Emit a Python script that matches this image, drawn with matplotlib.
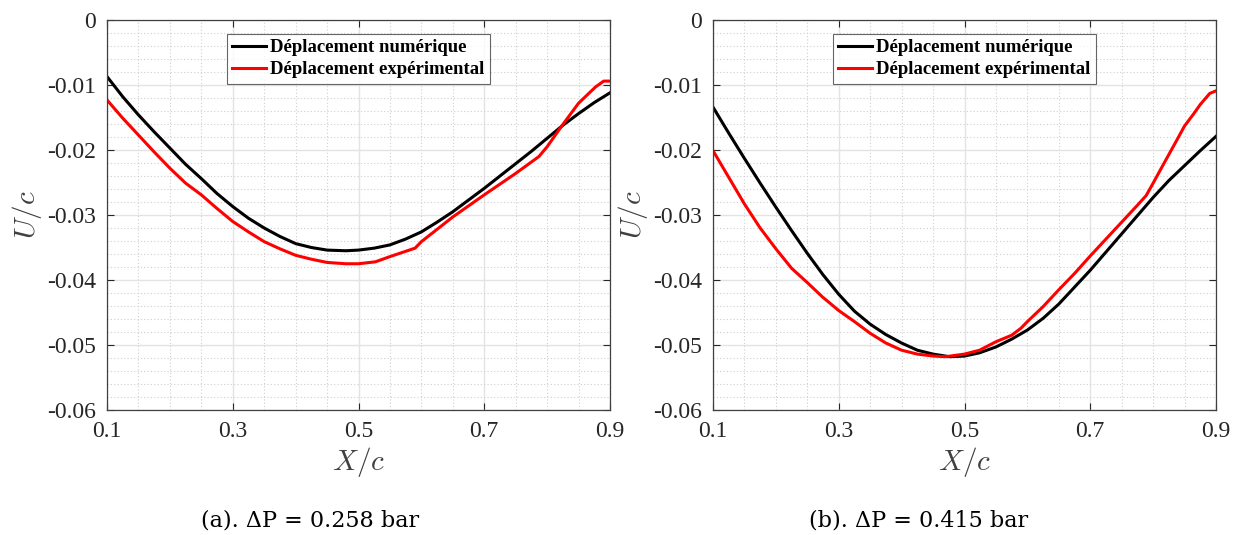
import numpy as np
import matplotlib
matplotlib.use('Agg')
import matplotlib.pyplot as plt
from matplotlib.ticker import MultipleLocator

plt.rcParams['font.family'] = ['Liberation Serif', 'DejaVu Serif']
plt.rcParams['mathtext.fontset'] = 'cm'

# (a) dP = 0.258 bar
xa_num = [0.1, 0.125, 0.15, 0.175, 0.2, 0.225, 0.25, 0.275, 0.3, 0.325, 0.35, 0.375, 0.4, 0.425,
          0.45, 0.48, 0.5, 0.525, 0.55, 0.575, 0.6, 0.625, 0.65, 0.675, 0.7, 0.725, 0.75, 0.775,
          0.8, 0.825, 0.85, 0.875, 0.9]
ya_num = [-0.0087, -0.0118, -0.0146, -0.0172, -0.0197, -0.0222, -0.0244, -0.0267, -0.0287, -0.0305,
          -0.0320, -0.0333, -0.0344, -0.0350, -0.0354, -0.0355, -0.0354, -0.0351, -0.0346, -0.0337,
          -0.0326, -0.0311, -0.0295, -0.0277, -0.0259, -0.0240, -0.0221, -0.0202, -0.0182, -0.0162,
          -0.0144, -0.0127, -0.0112]
xa_exp = [0.1, 0.125, 0.15, 0.175, 0.2, 0.225, 0.25, 0.275, 0.3, 0.325, 0.35, 0.375, 0.4, 0.425,
          0.45, 0.48, 0.5, 0.527, 0.55, 0.59, 0.6, 0.65, 0.7, 0.75, 0.787, 0.8, 0.824, 0.85, 0.877,
          0.89, 0.9]
ya_exp = [-0.0123, -0.0151, -0.0177, -0.0203, -0.0228, -0.0251, -0.0269, -0.0290, -0.0310, -0.0326,
          -0.0341, -0.0352, -0.0362, -0.0368, -0.0373, -0.0375, -0.0375, -0.0372, -0.0364, -0.0351,
          -0.0341, -0.0303, -0.0269, -0.0236, -0.0210, -0.0195, -0.0162, -0.0128, -0.0103, -0.0094,
          -0.0094]

# (b) dP = 0.415 bar
xb_num = [0.1, 0.125, 0.15, 0.175, 0.2, 0.225, 0.25, 0.275, 0.3, 0.325, 0.35, 0.375, 0.4, 0.425,
          0.45, 0.476, 0.5, 0.524, 0.55, 0.575, 0.6, 0.625, 0.65, 0.675, 0.7, 0.725, 0.75, 0.775,
          0.8, 0.825, 0.85, 0.875, 0.9]
yb_num = [-0.0134, -0.0174, -0.0213, -0.0251, -0.0288, -0.0324, -0.0359, -0.0392, -0.0422, -0.0448,
          -0.0468, -0.0484, -0.0497, -0.0508, -0.0514, -0.0518, -0.0517, -0.0512, -0.0503, -0.0491,
          -0.0477, -0.0459, -0.0437, -0.0411, -0.0385, -0.0357, -0.0329, -0.0301, -0.0273, -0.0247,
          -0.0224, -0.0201, -0.0179]
xb_exp = [0.1, 0.125, 0.15, 0.175, 0.2, 0.225, 0.25, 0.274, 0.3, 0.325, 0.35, 0.375, 0.4, 0.425,
          0.45, 0.47, 0.5, 0.524, 0.55, 0.575, 0.59, 0.6, 0.625, 0.65, 0.675, 0.7, 0.725, 0.75,
          0.775, 0.789, 0.8, 0.813, 0.825, 0.837, 0.85, 0.864, 0.875, 0.89, 0.9]
yb_exp = [-0.0201, -0.0242, -0.0283, -0.0320, -0.0352, -0.0382, -0.0404, -0.0426, -0.0447, -0.0464,
          -0.0482, -0.0497, -0.0508, -0.0514, -0.0517, -0.0518, -0.0514, -0.0508, -0.0495, -0.0485,
          -0.0474, -0.0464, -0.0441, -0.0415, -0.0390, -0.0363, -0.0337, -0.0311, -0.0285, -0.0270,
          -0.0251, -0.0228, -0.0207, -0.0186, -0.0163, -0.0145, -0.0130, -0.0113, -0.0109]

x_ticks = [0.1, 0.3, 0.5, 0.7, 0.9]
y_ticks = [0, -0.01, -0.02, -0.03, -0.04, -0.05, -0.06]
y_labels = ['0', '-0.01', '-0.02', '-0.03', '-0.04', '-0.05', '-0.06']
legend_labels = ['Déplacement numérique', 'Déplacement expérimental']
captions = ['(a). ΔP = 0.258 bar', '(b). ΔP = 0.415 bar']

fig = plt.figure(figsize=(12.41, 5.35), dpi=100)
W, H = 1241, 535
panels = [
    (107, 310, xa_num, ya_num, xa_exp, ya_exp),
    (713, 919, xb_num, yb_num, xb_exp, yb_exp),
]

for i, (left, cap_x, xn, yn, xe, ye) in enumerate(panels):
    ax = fig.add_axes([left / W, (H - 410) / H, 503 / W, 390 / H])
    ax.plot(xn, yn, color='black', lw=2.2, label=legend_labels[0])
    ax.plot(xe, ye, color='#ff0000', lw=2.2, label=legend_labels[1])
    ax.set_xlim(0.1, 0.9)
    ax.set_ylim(-0.06, 0)
    ax.set_xticks(x_ticks)
    ax.set_xticklabels([str(t) for t in x_ticks])
    ax.set_yticks(y_ticks)
    ax.set_yticklabels(y_labels)
    ax.xaxis.set_minor_locator(MultipleLocator(0.05))
    ax.yaxis.set_minor_locator(MultipleLocator(0.002))
    ax.grid(True, which='major', color='#e3e3e3', lw=1.0, ls='-')
    ax.grid(True, which='minor', color='#cfcfcf', lw=0.8, ls=(0, (1, 2)))
    ax.set_axisbelow(True)
    ax.tick_params(which='both', direction='in', top=True, right=True, labelsize=17,
                   colors='#262626', pad=8)
    ax.tick_params(which='major', length=5, width=0.8)
    ax.tick_params(which='minor', length=0)
    for s in ax.spines.values():
        s.set_color('#404040')
        s.set_linewidth(0.9)
    ax.set_xlabel('$X/c$', fontsize=21, color='#404040', labelpad=2)
    ax.set_ylabel('$U/c$', fontsize=21, color='#404040', labelpad=2)
    leg = ax.legend(loc='upper left', bbox_to_anchor=(0.238, 0.965), borderaxespad=0,
                    prop={'weight': 'bold', 'size': 13.5}, frameon=True, fancybox=False,
                    handlelength=1.8, handletextpad=0.2, borderpad=0.3, labelspacing=0.26)
    leg.get_frame().set_edgecolor('#404040')
    leg.get_frame().set_linewidth(0.8)
    fig.text(cap_x / W, (H - 520) / H, captions[i], ha='center', va='center', fontsize=16,
             family=['DejaVu Serif'])

fig.savefig('out.png', dpi=100)
